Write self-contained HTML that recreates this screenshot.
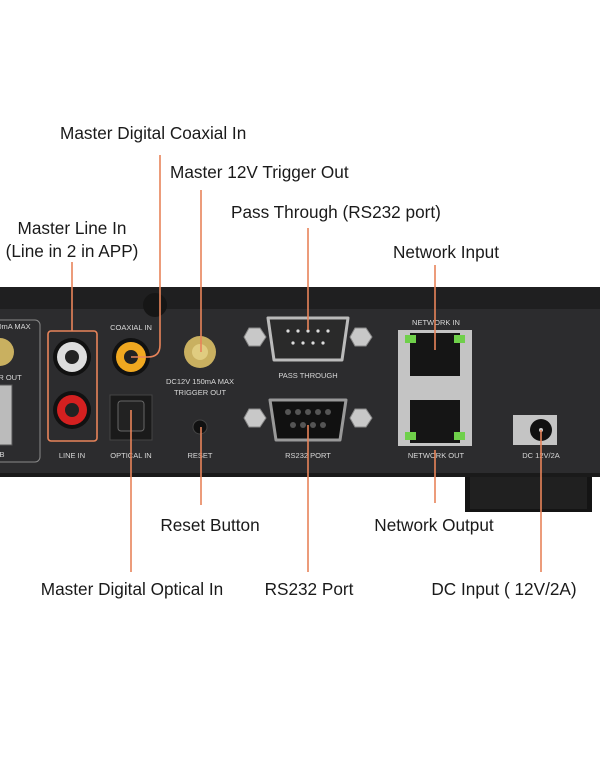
<!DOCTYPE html>
<html><head><style>
html,body{margin:0;padding:0;background:#fff;width:600px;height:766px;overflow:hidden}
svg{display:block}
.l{font-family:"Liberation Sans",sans-serif;font-size:17.2px;fill:#1a1a1a}
.s{font-family:"Liberation Sans",sans-serif;font-size:7.5px;fill:#d8d8d8;text-anchor:middle}
.o{stroke:#e8845a;stroke-width:1.6;fill:none}
</style></head><body>
<svg width="600" height="766" viewBox="0 0 600 766">
<rect x="465" y="470" width="127" height="42" fill="#141414"/>
<rect x="470" y="475" width="117" height="34" fill="#202020"/>
<rect x="0" y="287" width="600" height="190" fill="#2c2c2e"/>
<rect x="0" y="287" width="600" height="22" fill="#1f1f20"/>
<rect x="0" y="473" width="600" height="4" fill="#1a1a1a"/>
<circle cx="155" cy="305" r="12" fill="#161616"/>
<rect x="-6" y="320" width="46" height="142" rx="5" fill="none" stroke="#8a8a8a" stroke-width="1"/>
<text class="s" x="14" y="329">0mA MAX</text>
<circle cx="0" cy="352" r="14" fill="#c9b060"/>
<text class="s" x="10" y="380">R OUT</text>
<rect x="-4" y="385" width="16" height="60" fill="#bbb" stroke="#555"/>
<text class="s" x="2" y="457">B</text>
<rect x="48" y="331" width="49" height="110" rx="3" class="o"/>
<circle cx="72" cy="357" r="19" fill="#111"/><circle cx="72" cy="357" r="15" fill="#ddd"/><circle cx="72" cy="357" r="7" fill="#222"/>
<circle cx="72" cy="410" r="19" fill="#111"/><circle cx="72" cy="410" r="15" fill="#d42020"/><circle cx="72" cy="410" r="7" fill="#222"/>
<text class="s" x="72" y="458">LINE IN</text>
<text class="s" x="131" y="330">COAXIAL IN</text>
<circle cx="131" cy="357" r="19" fill="#111"/><circle cx="131" cy="357" r="15" fill="#f0a820"/><circle cx="131" cy="357" r="7" fill="#222"/>
<rect x="110" y="395" width="42" height="45" fill="#1a1a1a" stroke="#444"/>
<rect x="118" y="401" width="26" height="30" rx="3" fill="#222" stroke="#666"/>
<text class="s" x="131" y="458">OPTICAL IN</text>
<circle cx="200" cy="352" r="16" fill="#c9b060"/><circle cx="200" cy="352" r="8" fill="#e0cc80"/>
<text class="s" x="200" y="384">DC12V 150mA MAX</text>
<text class="s" x="200" y="395">TRIGGER OUT</text>
<circle cx="200" cy="427" r="7" fill="#111" stroke="#444"/>
<text class="s" x="200" y="458">RESET</text>
<g fill="#c8c8c8" stroke="#888">
<polygon points="244,337 249,328 260,328 266,337 260,346 249,346"/>
<polygon points="244,418 249,409 260,409 266,418 260,427 249,427"/>
<polygon points="350,337 355,328 366,328 372,337 366,346 355,346"/>
<polygon points="350,418 355,409 366,409 372,418 366,427 355,427"/>
</g>
<path d="M268,318 H348 L342,360 H274 Z" fill="#2a2a2a" stroke="#bbb" stroke-width="3" stroke-linejoin="round"/>
<g fill="#ddd"><circle cx="288" cy="331" r="1.6"/><circle cx="298" cy="331" r="1.6"/><circle cx="308" cy="331" r="1.6"/><circle cx="318" cy="331" r="1.6"/><circle cx="328" cy="331" r="1.6"/>
<circle cx="293" cy="343" r="1.6"/><circle cx="303" cy="343" r="1.6"/><circle cx="313" cy="343" r="1.6"/><circle cx="323" cy="343" r="1.6"/></g>
<text class="s" x="308" y="378">PASS THROUGH</text>
<path d="M270,400 H346 L340,440 H276 Z" fill="#111" stroke="#999" stroke-width="3" stroke-linejoin="round"/>
<g fill="#555"><circle cx="288" cy="412" r="3"/><circle cx="298" cy="412" r="3"/><circle cx="308" cy="412" r="3"/><circle cx="318" cy="412" r="3"/><circle cx="328" cy="412" r="3"/>
<circle cx="293" cy="425" r="3"/><circle cx="303" cy="425" r="3"/><circle cx="313" cy="425" r="3"/><circle cx="323" cy="425" r="3"/></g>
<text class="s" x="308" y="458">RS232 PORT</text>
<text class="s" x="436" y="325">NETWORK IN</text>
<rect x="398" y="330" width="74" height="116" fill="#c4c4c4"/>
<rect x="410" y="333" width="50" height="43" fill="#151515"/>
<rect x="410" y="400" width="50" height="43" fill="#151515"/>
<g fill="#6fd04a"><rect x="405" y="335" width="11" height="8"/><rect x="454" y="335" width="11" height="8"/><rect x="405" y="432" width="11" height="8"/><rect x="454" y="432" width="11" height="8"/></g>
<text class="s" x="436" y="458">NETWORK OUT</text>
<rect x="513" y="415" width="44" height="30" fill="#c4c4c4"/>
<circle cx="541" cy="430" r="11" fill="#111"/><circle cx="541" cy="430" r="2" fill="#ccc"/>
<text class="s" x="541" y="458">DC 12V/2A</text>
<path class="o" d="M160,155 V345 Q160,357 148,357 H131"/>
<path class="o" d="M201,190 V352"/>
<path class="o" d="M308,228 V330"/>
<path class="o" d="M72,262 V331"/>
<path class="o" d="M435,265 V350"/>
<path class="o" d="M201,427 V505"/>
<path class="o" d="M435,450 V503"/>
<path class="o" d="M131,410 V572"/>
<path class="o" d="M308,425 V572"/>
<path class="o" d="M541,430 V572"/>
<text class="l" x="60" y="139">Master Digital Coaxial In</text>
<text class="l" x="170" y="178">Master 12V Trigger Out</text>
<text class="l" x="231" y="218">Pass Through (RS232 port)</text>
<text class="l" x="72" y="234" text-anchor="middle">Master Line In</text>
<text class="l" x="72" y="257" text-anchor="middle">(Line in 2 in APP)</text>
<text class="l" x="446" y="258" text-anchor="middle">Network Input</text>
<text class="l" x="210" y="531" text-anchor="middle">Reset Button</text>
<text class="l" x="434" y="531" text-anchor="middle">Network Output</text>
<text class="l" x="132" y="595" text-anchor="middle">Master Digital Optical In</text>
<text class="l" x="309" y="595" text-anchor="middle">RS232 Port</text>
<text class="l" x="504" y="595" text-anchor="middle">DC Input ( 12V/2A)</text>
</svg>
</body></html>
